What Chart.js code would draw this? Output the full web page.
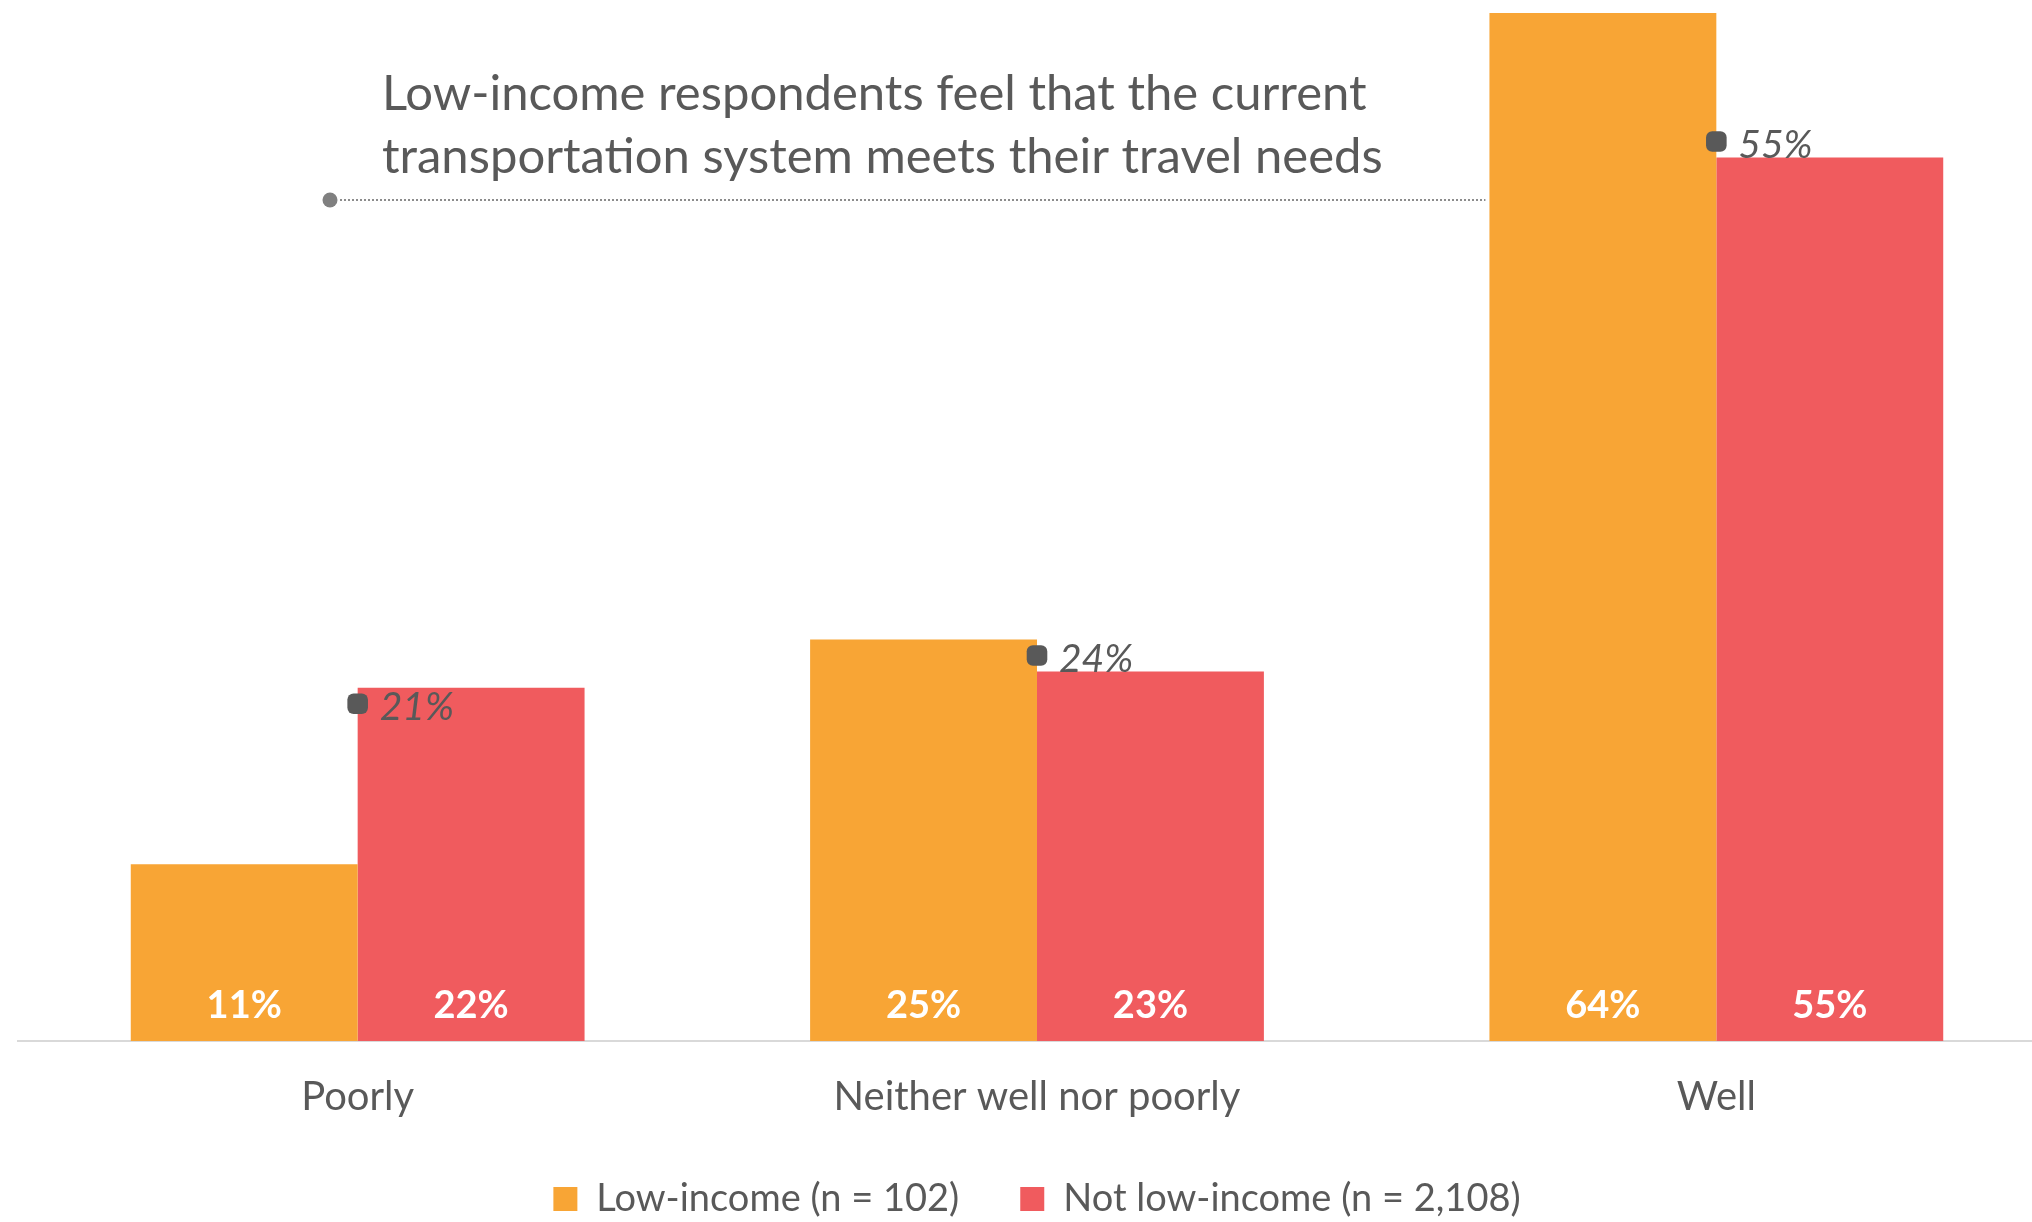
<!DOCTYPE html>
<html>
<head>
<meta charset="utf-8">
<script src="https://cdn.jsdelivr.net/npm/chart.js@4.4.0/dist/chart.umd.min.js"></script>
<style>
  html, body { margin: 0; padding: 0; background: #fff; overflow: hidden; }
  #wrap { position: relative; width: 2060px; height: 1228px; }
</style>
</head>
<body>
<div id="wrap"><canvas id="myChart"></canvas></div>
<script>
// values
const categories = ['Poorly', 'Neither well nor poorly', 'Well'];
const lowIncome = [11, 25, 64];
const notLowIncome = [22, 23, 55];
// grey markers ("feel the system meets their needs"); the 55% one sits a bit above 55 in the picture
const feelMeets = [21, 24, 56];
const feelMeetsLabels = ['21%', '24%', '55%'];
const seriesNames = ['Low-income (n = 102)', 'Not low-income (n = 2,108)'];
const noteLines = ['Low-income respondents feel that the current', 'transportation system meets their travel needs'];

const grey = '#595959';
Chart.defaults.font.family = 'Lato';

// callout text with the dotted leader line
const callout = {
    id: 'callout',
    beforeDatasetsDraw(chart) {
        const ctx = chart.ctx;
        const wellBar = chart.getDatasetMeta(1).data[2];
        ctx.save();
        ctx.font = '49px Lato';
        ctx.fillStyle = grey;
        ctx.textAlign = 'left';
        ctx.textBaseline = 'alphabetic';
        ctx.fillText(noteLines[0], 382, 110);
        ctx.fillText(noteLines[1], 382, 173);
        ctx.fillStyle = '#808080';
        ctx.beginPath();
        ctx.arc(330, 200, 7.5, 0, Math.PI * 2);
        ctx.fill();
        ctx.strokeStyle = '#8c8c8c';
        ctx.lineWidth = 2;
        ctx.setLineDash([2, 2]);
        ctx.beginPath();
        ctx.moveTo(340, 200);
        ctx.lineTo(wellBar.x - wellBar.width / 2 - 4, 200);
        ctx.stroke();
        ctx.restore();
    }
};

// value labels: white inside the bar base, grey italic beside the markers
const valueLabels = {
    id: 'valueLabels',
    afterDatasetsDraw(chart) {
        const ctx = chart.ctx;
        ctx.save();
        ctx.textBaseline = 'alphabetic';
        ctx.font = 'bold 38px Lato';
        ctx.fillStyle = '#ffffff';
        ctx.textAlign = 'center';
        [1, 2].forEach(di => {
            chart.getDatasetMeta(di).data.forEach((bar, i) => {
                ctx.fillText(chart.data.datasets[di].data[i] + '%', bar.x, bar.base - 23);
            });
        });
        ctx.font = 'italic 39px Lato';
        ctx.fillStyle = grey;
        ctx.textAlign = 'left';
        chart.getDatasetMeta(0).data.forEach((pt, i) => {
            ctx.fillText(feelMeetsLabels[i], pt.x + 22, pt.y + 16);
        });
        ctx.restore();
    }
};

new Chart(document.getElementById('myChart'), {
    type: 'bar',
    data: {
        labels: categories,
        datasets: [
            {
                type: 'line',
                label: 'feel',
                data: feelMeets,
                showLine: false,
                pointStyle: 'rectRounded',
                pointRadius: 12,
                pointHoverRadius: 12,
                pointBackgroundColor: grey,
                pointBorderWidth: 0,
                order: 0
            },
            {
                label: seriesNames[0],
                data: lowIncome,
                backgroundColor: '#F8A535',
                categoryPercentage: 0.668,
                barPercentage: 1.0,
                order: 1
            },
            {
                label: seriesNames[1],
                data: notLowIncome,
                backgroundColor: '#F05B5E',
                categoryPercentage: 0.668,
                barPercentage: 1.0,
                order: 1
            }
        ]
    },
    options: {
        responsive: true,
        maintainAspectRatio: false,
        animation: false,
        layout: { autoPadding: false, padding: { left: 18, right: 4, top: 13, bottom: 0 } },
        plugins: {
            legend: {
                position: 'bottom',
                labels: {
                    filter: item => item.datasetIndex > 0,
                    boxWidth: 24,
                    boxHeight: 24,
                    padding: 61,
                    color: grey,
                    font: { size: 38 }
                }
            },
            tooltip: { enabled: false }
        },
        scales: {
            x: {
                grid: { display: false },
                border: { display: true, color: '#D9D9D9', width: 2 },
                ticks: { color: grey, font: { size: 40 }, padding: 24 },
                afterFit(axis) { axis.height = 78; }
            },
            y: { display: false, min: 0, max: 64 }
        }
    },
    plugins: [callout, valueLabels]
});
</script>
</body>
</html>
